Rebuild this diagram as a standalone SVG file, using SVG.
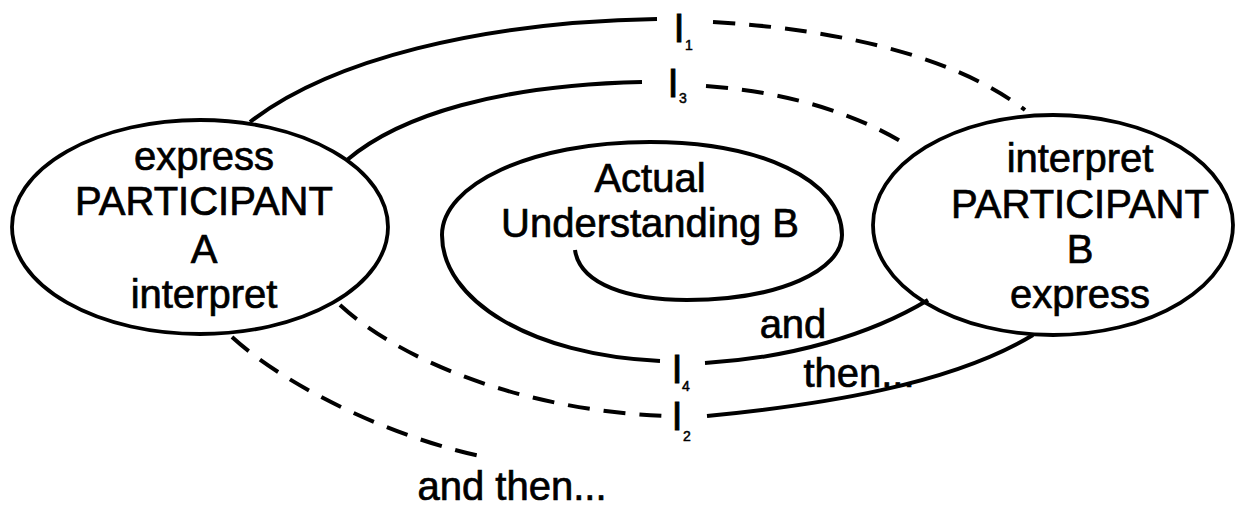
<svg xmlns="http://www.w3.org/2000/svg" width="1240" height="513" viewBox="0 0 1240 513">
<style>
.shape{fill:none;stroke:#000;stroke-width:3.8}
.line{fill:none;stroke:#000;stroke-width:4}
.dash{fill:none;stroke:#000;stroke-width:4;stroke-dasharray:22 14}
.t{font-family:"Liberation Sans",Arial,sans-serif;font-size:40px;fill:#000;stroke:#000;stroke-width:0.7;text-anchor:middle}
.lab{font-family:"Liberation Sans",Arial,sans-serif;font-size:40px;fill:#000;stroke:#000;stroke-width:0.8;text-anchor:middle}
.sub{font-family:"Liberation Sans",Arial,sans-serif;font-size:14px;fill:#000;stroke:#000;stroke-width:0.5;text-anchor:middle}
</style>
<rect width="1240" height="513" fill="#fff"/>
<g id="connectors">
<path class="line" d="M 250 122 C 330 60, 480 22, 657 19"/>
<path class="dash" d="M 713 22 C 850 30, 960 60, 1025 110"/>
<path class="line" d="M 347 160 C 400 115, 500 85, 642 82"/>
<path class="dash" d="M 706 86 C 790 92, 860 115, 910 147"/>
<path class="line" d="M 705 363 C 790 358, 870 335, 928 300"/>
<path class="dash" d="M 340 305 C 400 360, 520 410, 665 416"/>
<path class="line" d="M 707 416 C 820 405, 950 385, 1033 335"/>
<path class="dash" d="M 232 337 C 290 390, 400 440, 485 457"/>
<text class="lab" x="679" y="42">I</text><text class="sub" x="689" y="50">1</text>
<text class="lab" x="673" y="97">I</text><text class="sub" x="683" y="103">3</text>
<text class="lab" x="677" y="383">I</text><text class="sub" x="686" y="391">4</text>
<text class="lab" x="677" y="430">I</text><text class="sub" x="687" y="441">2</text>
<text class="t" x="793" y="338">and</text>
<text class="t" x="859" y="387">then...</text>
<text class="t" x="512" y="500">and then...</text>
</g>
<g id="participantA">
<ellipse class="shape" cx="200" cy="227" rx="188" ry="107"/>
<text class="t" x="204" y="170">express</text>
<text class="t" x="204" y="215">PARTICIPANT</text>
<text class="t" x="204" y="263">A</text>
<text class="t" x="204" y="308">interpret</text>
</g>
<g id="participantB">
<ellipse class="shape" cx="1053" cy="225" rx="180" ry="110"/>
<text class="t" x="1080" y="172">interpret</text>
<text class="t" x="1080" y="218">PARTICIPANT</text>
<text class="t" x="1080" y="263">B</text>
<text class="t" x="1080" y="308">express</text>
</g>
<g id="understandingB">
<path class="line" d="M 575 250 C 580 285, 630 300, 687 300 C 780 300, 842 270, 842 235 C 842 180, 760 142, 650 142 C 530 142, 442 185, 442 235 C 442 300, 530 355, 660 361"/>
<text class="t" x="650" y="192">Actual</text>
<text class="t" x="650" y="237">Understanding B</text>
</g>
</svg>
